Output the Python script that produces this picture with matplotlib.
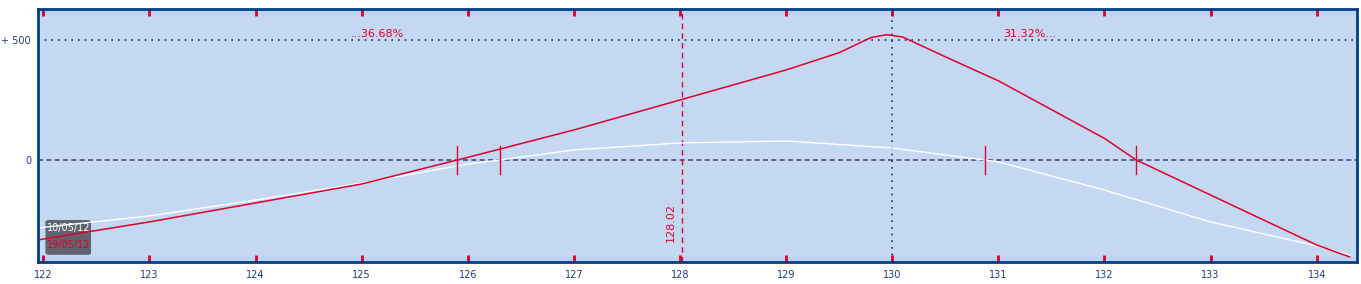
import matplotlib.pyplot as plt
from matplotlib.patches import FancyBboxPatch

# valeurs lues sur le graphique
# courbe blanche (10/05/12)
blanc_x = [121.95, 123, 124, 125, 126, 126.3, 127, 128, 129, 130, 130.87, 131, 132, 133, 134, 134.31]
blanc_y = [-283, -233, -167, -96, -17, 0, 42, 71, 79, 50, 0, -8, -125, -258, -358, -396]
# courbe rouge (19/05/12)
rouge_x = [121.95, 123, 124, 125, 125.9, 126, 127, 128, 129, 129.5, 129.8, 129.95, 130.1, 130.5, 131, 132, 132.3, 133, 134, 134.31]
rouge_y = [-333, -258, -179, -100, 0, 11, 125, 250, 375, 447, 510, 522, 512, 430, 330, 90, 0, -146, -354, -404]

zeros_rouge = [125.9, 132.3]
zeros_blanc = [126.3, 130.87]
cours = 128.02
pic = 130
ticks_x = list(range(122, 135))
dates = ["10/05/12", "19/05/12"]
pourcents = ["...36.68%", "31.32%..."]

fig = plt.figure(figsize=(13.61, 2.84), dpi=100)
ax = fig.add_axes([38/1361, 22/284, 1319/1361, 253/284])
ax.set_facecolor("#C5D8F2")
xmin, xmax = 121.95, 134.38
ymin, ymax = -425, 629
ax.set_xlim(xmin, xmax)
ax.set_ylim(ymin, ymax)

# bandes plus claires en haut et en bas
ax.axhspan(ymax - 21, ymax, color="#BBD2F2", zorder=0)
ax.axhspan(ymin, ymin + 21, color="#BBD2F2", zorder=0)

ax.axhline(500, color="#1F2F5F", linestyle=(0, (1, 3)), linewidth=1.2)
ax.axhline(0, color="#4A4A7A", linestyle=(0, (3, 2)), linewidth=1.2)
ax.axvline(pic, color="#1F2F5F", linestyle=(0, (1, 3)), linewidth=1.2)
ax.axvline(cours, color="#E0002A", linestyle=(0, (4, 3)), linewidth=1)
ax.text(cours - 0.06, -260, f"{cours:.2f}", rotation=90, color="#E0002A",
        fontsize=8, ha="right", va="center")

# légende des dates (boîte sous les courbes)
boite = FancyBboxPatch((122.02, -395), 0.43, 145, boxstyle="round,pad=0,rounding_size=0.03",
                       fc="#5F6470", ec="none", zorder=1.5, mutation_aspect=300)
ax.add_patch(boite)

ax.plot(blanc_x, blanc_y, color="white", linewidth=1, zorder=2)
ax.plot(rouge_x, rouge_y, color="#E0002A", linewidth=1.1, zorder=2)

for z in zeros_rouge + zeros_blanc:
    ax.plot([z, z], [-60, 60], color="#E0002A", linewidth=1)

ax.text(125.15, 525, pourcents[0], color="#E0002A", fontsize=8, ha="center", va="center")
ax.text(131.3, 525, pourcents[1], color="#E0002A", fontsize=8, ha="center", va="center")

ax.text(122.235, -285, dates[0], color="white", fontsize=7, ha="center", va="center", zorder=6)
ax.text(122.235, -355, dates[1], color="#E0002A", fontsize=7, ha="center", va="center", zorder=6)

ax.set_xticks(ticks_x)
ax.set_xticklabels([str(t) for t in ticks_x], fontsize=7, color="#1F3F7F")
ax.set_yticks([0, 500])
ax.set_yticklabels(["0", "+ 500"], fontsize=7, color="#1F3F7F")
ax.tick_params(axis="x", direction="in", length=5, width=2, color="#E0002A",
               top=True, pad=6)
ax.tick_params(axis="y", length=0, pad=5)
for s in ax.spines.values():
    s.set_color("#003F7F")
    s.set_linewidth(2)

fig.savefig("out.png", dpi=100)
